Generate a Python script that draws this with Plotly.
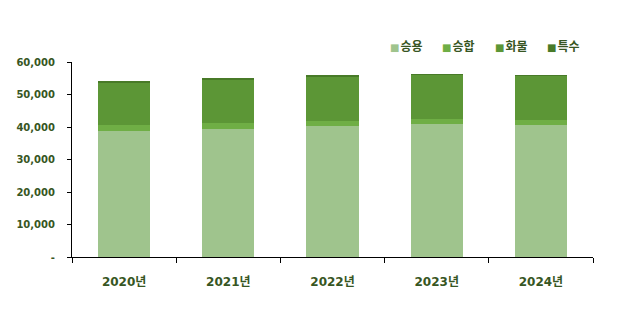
import plotly.graph_objects as go

years = ["2020년", "2021년", "2022년", "2023년", "2024년"]
passenger = [38700, 39400, 40300, 40900, 40600]   # 승용
van = [1900, 1800, 1500, 1500, 1500]               # 승합
truck = [13200, 13300, 13600, 13600, 13600]        # 화물
special = [300, 300, 300, 300, 300]                # 특수

series_names = ["승용", "승합", "화물", "특수"]
series_colors = ["#9fc48d", "#6fae45", "#5c9636", "#487a28"]
ytick_vals = [0, 10000, 20000, 30000, 40000, 50000, 60000]
ytick_text = ["-", "10,000", "20,000", "30,000", "40,000", "50,000", "60,000"]

txt_color = "#375623"
font_fam = "DejaVu Sans, Noto Sans CJK KR, sans-serif"

W, H = 621, 330
ML, MR, MT, MB = 72, 28, 62, 73
PW = W - ML - MR
PH = H - MT - MB

fig = go.Figure()
for name, vals, col in zip(series_names, [passenger, van, truck, special], series_colors):
    fig.add_trace(go.Bar(
        x=years, y=vals, name=name,
        marker=dict(color=col, line=dict(width=0)),
        width=0.5,
    ))

# custom legend (compact, like the reference)
legend_left_px = 388
legend_step_px = 52.3
legend_y_px = 45
for i, (name, col) in enumerate(zip(series_names, series_colors)):
    fig.add_annotation(
        xref="paper", yref="paper",
        x=(legend_left_px + i * legend_step_px - ML) / PW,
        y=(H - MB - legend_y_px) / PH,
        xanchor="left", yanchor="middle",
        showarrow=False,
        text=(f"<span style='font-family:DejaVu Sans;font-size:10px;color:{col}'>■</span>"
              f"<span style='font-size:4px'> </span>{name}"),
        font=dict(family="Noto Sans CJK KR, sans-serif", size=12, color=txt_color, weight="bold"),
    )

fig.update_layout(
    barmode="stack",
    width=W, height=H,
    margin=dict(l=ML, r=MR, t=MT, b=MB),
    paper_bgcolor="white", plot_bgcolor="white",
    font=dict(family=font_fam, color=txt_color),
    showlegend=False,
)
fig.update_xaxes(
    showline=True, linecolor="black", linewidth=1,
    ticks="outside", ticklen=5, tickcolor="black",
    tickson="boundaries",
    ticklabelstandoff=14,
    tickfont=dict(family=font_fam, size=12, color=txt_color, weight="bold"),
    showgrid=False,
)
fig.update_yaxes(
    range=[0, 60000],
    tickvals=ytick_vals, ticktext=ytick_text,
    showline=True, linecolor="black", linewidth=1,
    ticks="outside", ticklen=4, tickcolor="black",
    ticklabelstandoff=10,
    tickfont=dict(family=font_fam, size=10, color=txt_color, weight="bold"),
    showgrid=False, zeroline=False,
)

fig.write_html("out.html")
